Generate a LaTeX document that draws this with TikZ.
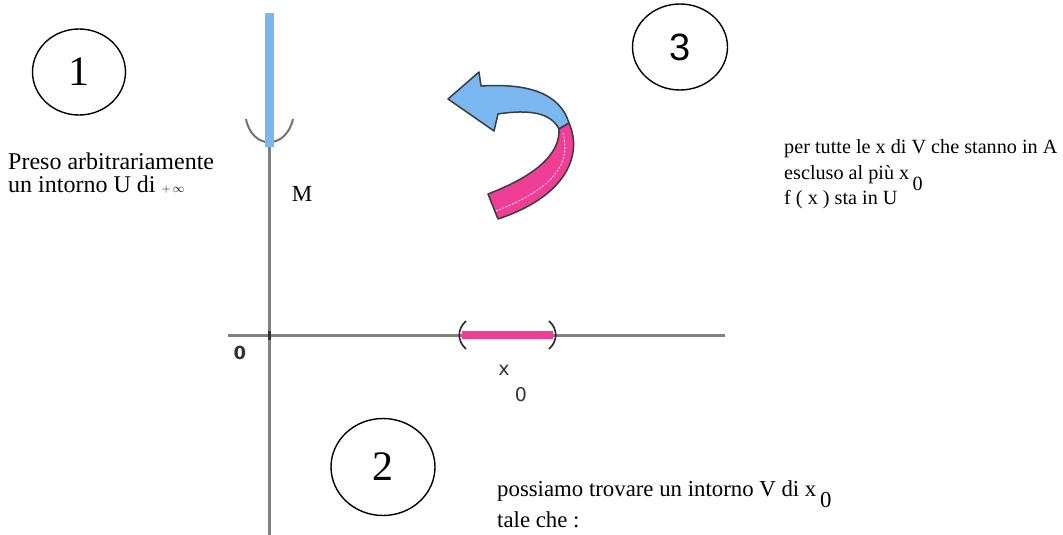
\documentclass[tikz,border=0pt]{standalone}
\usepackage{fontspec}
\setmainfont{Liberation Serif}
\newfontfamily\arialf{Liberation Sans}
\newfontfamily\dejaf{DejaVu Sans}
\usetikzlibrary{shapes.geometric}
\definecolor{axisgray}{RGB}{128,128,128}
\definecolor{barblue}{RGB}{122,182,240}
\definecolor{barpink}{RGB}{240,62,150}
\definecolor{edgegray}{RGB}{60,60,60}
\tikzset{
  numcircle/.style={ellipse, draw=black, line width=1.4pt, inner sep=0pt},
  axisline/.style={draw=axisgray, line width=3pt},
  txt/.style={anchor=base west, inner sep=0pt, font=\fontsize{20.2}{24}\selectfont},
  bottxt/.style={anchor=base west, inner sep=0pt, font=\fontsize{22.8}{24}\selectfont},
  lefttxt/.style={anchor=base west, inner sep=0pt, font=\fontsize{24}{26}\selectfont},
  sanslbl/.style={inner sep=0pt, font=\dejaf\fontsize{19}{20}\selectfont, text=black!80},
  paren/.style={draw=black!85, line width=1.6pt},
}
\begin{document}
\begin{tikzpicture}[x=1pt,y=-1pt]
\useasboundingbox (0,0) rectangle (1063,535);
\fill[white] (0,0) rectangle (1063,535);

% numbered circles
\node[numcircle, minimum width=93, minimum height=86, font=\fontsize{42}{42}\selectfont] (c1) at (79,72) {1};
\node[numcircle, minimum width=95, minimum height=86, font=\arialf\fontsize{38}{38}\selectfont] (c3) at (680,47) {3};
\node[numcircle, minimum width=104, minimum height=97, font=\fontsize{42}{42}\selectfont] (c2) at (383,467) {2};

% axes
\coordinate (ytop) at (269,147);
\coordinate (ybot) at (269,535);
\coordinate (xl) at (228,335);
\coordinate (xr) at (725,335);
\coordinate (o) at (269,335);
\draw[axisline] (ytop) -- (ybot);
\draw[axisline] (xl) -- (xr);
\draw[black!80, line width=3pt] ([yshift=-5]o) -- ([yshift=4]o);

% neighbourhood of +infinity
\coordinate (cupL) at (246,119);
\coordinate (cupR) at (293,119);
\draw[axisgray!90!black, line width=2pt] (cupL) .. controls (252,150) and (286,150) .. (cupR);
\coordinate (btop) at (269,13);
\draw[barblue, line width=9pt] (btop) -- (ytop);

% interval around x0
\coordinate (iL) at (462,335);
\coordinate (iR) at (553,335);
\draw[barpink, line width=8pt] (iL) -- (iR);
\draw[paren] (466,321) .. controls (457,329) and (457,341) .. (466,349);
\draw[paren] (549,321) .. controls (558,329) and (558,341) .. (549,349);

% labels on axes
\node[sanslbl, font=\dejaf\bfseries\fontsize{18}{20}\selectfont] (zero) at (240,353) {0};
\node[sanslbl] (xx) at (504,370) {x};
\node[sanslbl] (xsub) at (521,395) {0};
\node[anchor=base, inner sep=0pt, font=\fontsize{23}{24}\selectfont] (M) at (302,201) {M};

% curved arrow
\filldraw[fill=barblue, draw=edgegray, line width=1.5pt, line join=round]
  (448,99) -- (479,72) -- (481,86)
  .. controls (530,83) and (560,94) .. (569,123)
  -- (559,129)
  .. controls (551,113) and (530,109) .. (498,114)
  -- (494,131) -- cycle;
\filldraw[fill=barpink, draw=edgegray, line width=1.5pt, line join=round]
  (559,129) -- (569,123)
  .. controls (582,152) and (570,195) .. (498,219)
  -- (488,194)
  .. controls (540,174) and (560,152) .. cycle;
\draw[white!80!pink, line width=0.8pt, dash pattern=on 2pt off 1.5pt]
  (563,133) .. controls (570,160) and (560,186) .. (496,211);

% texts
\node[lefttxt] (t1a) at (8,169) {Preso arbitrariamente};
\node[lefttxt] (t1b) at (8,192) {un intorno U di \fontsize{13}{13}\selectfont$+\,\infty$};

\node[txt] (t3a) at (784,153) {per tutte le x di V che stanno in A};
\node[txt] (t3b) at (784,179) {escluso al più x\,\raisebox{-11pt}{0}};
\node[txt] (t3c) at (784,204) {f ( x ) sta in U};

\node[bottxt] (t2a) at (497,496) {possiamo trovare un intorno V di x\,\raisebox{-11pt}{0}};
\node[bottxt] (t2b) at (497,527) {tale che :};
\end{tikzpicture}
\end{document}
